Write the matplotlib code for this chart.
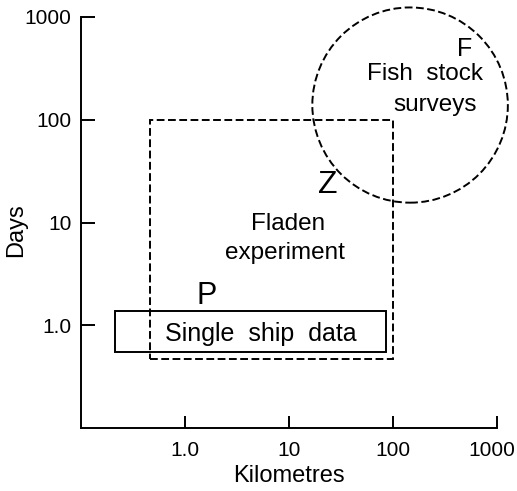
import numpy as np
import matplotlib
matplotlib.use('Agg')
import matplotlib.pyplot as plt
import matplotlib.transforms as mtransforms
from matplotlib.patches import Rectangle, Ellipse

# data (km, days)
ship_km = [0.21, 86]
ship_days = [0.55, 1.37]
fladen_km = [0.46, 100]
fladen_days = [0.47, 100]
fish_centre = [146, 139]        # km, days
fish_radius = [0.94, 0.95]      # in decades (x, y)

tick_vals = [1, 10, 100, 1000]
tick_labels = ['1.0', '10', '100', '1000']

plt.rcParams['font.family'] = ['Liberation Sans', 'DejaVu Sans']

fig = plt.figure(figsize=(5.17, 4.91), dpi=100)
ax = fig.add_axes([81/517, 1 - 428/491, 416/517, 411/491])
ax.set_xscale('log')
ax.set_yscale('log')
ax.set_xlim(0.1, 1000)
ax.set_ylim(0.1, 1000)

for s in ['top', 'right']:
    ax.spines[s].set_visible(False)
for s in ['left', 'bottom']:
    ax.spines[s].set_linewidth(1.4)

ax.minorticks_off()
ax.tick_params(axis='x', direction='in', length=9, width=1.4, pad=9, labelsize=15)
ax.tick_params(axis='y', direction='in', length=10, width=1.4, pad=7, labelsize=15)
ax.set_xticks(tick_vals)
ax.set_xticklabels(tick_labels)
ax.set_yticks(tick_vals)
ax.set_yticklabels(tick_labels)

# nudge the last x label inwards so it stays on the page
last = ax.get_xticklabels()[-1]
last.set_transform(last.get_transform() +
                   mtransforms.ScaledTranslation(-5/100, 0, fig.dpi_scale_trans))

ax.set_xlabel('Kilometres', fontsize=17)
ax.set_ylabel('Days', fontsize=17)
ax.xaxis.set_label_coords(0.5, -0.09)
ax.yaxis.set_label_coords(-0.13, 0.482)

dash = (0, (4, 1.8))

# single ship box
ax.add_patch(Rectangle((ship_km[0], ship_days[0]), ship_km[1] - ship_km[0],
                       ship_days[1] - ship_days[0], fill=False, lw=1.4, ec='black'))
# fladen box
ax.add_patch(Rectangle((fladen_km[0], fladen_days[0]), fladen_km[1] - fladen_km[0],
                       fladen_days[1] - fladen_days[0], fill=False, lw=1.4,
                       ec='black', linestyle=dash))
# fish stock circle, drawn in log space
ax.add_patch(Ellipse((np.log10(fish_centre[0]), np.log10(fish_centre[1])),
                     2 * fish_radius[0], 2 * fish_radius[1],
                     transform=ax.transLimits + ax.transAxes, fill=False,
                     lw=1.4, ec='black', linestyle=dash, clip_on=False))

ax.text(490, 490, 'F', fontsize=18, ha='center', va='center')
ax.text(204, 280, 'Fish  stock', fontsize=17.5, ha='center', va='center')
ax.text(252, 140, 'surveys', fontsize=17.5, ha='center', va='center')
ax.text(23.7, 23.4, 'Z', fontsize=23, ha='center', va='center')
ax.text(9.8, 9.6, 'Fladen', fontsize=17.5, ha='center', va='center')
ax.text(9.2, 5.1, 'experiment', fontsize=17.5, ha='center', va='center')
ax.text(1.63, 1.91, 'P', fontsize=22, ha='center', va='center')
ax.text(5.3, 0.82, 'Single  ship  data', fontsize=18, ha='center', va='center')

fig.savefig('out.png', dpi=100)
